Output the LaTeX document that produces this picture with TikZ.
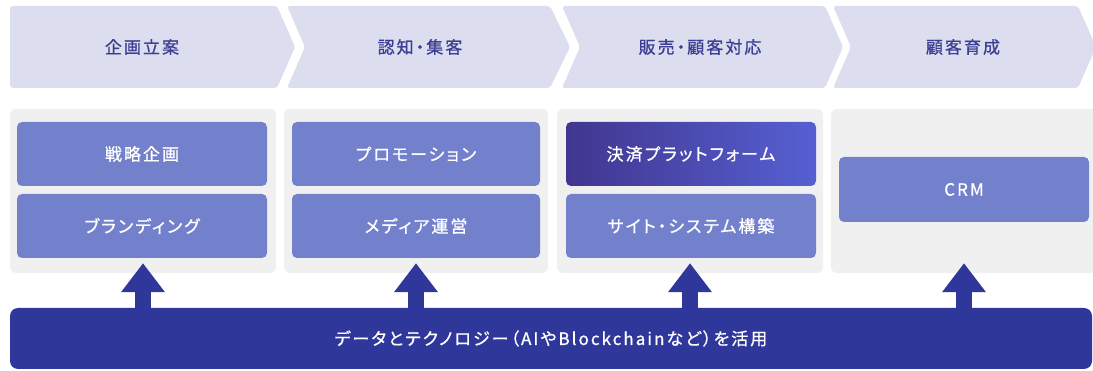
\documentclass[tikz,border=0pt]{standalone}
\usepackage{fontspec}
\setmainfont{Noto Sans CJK JP}[LetterSpace=12, RawFeature=+palt, FakeBold=0.8]
\usetikzlibrary{arrows.meta,calc}
\definecolor{chev}{HTML}{DCDDEE}
\definecolor{headtxt}{HTML}{3B3E93}
\definecolor{panel}{HTML}{F0F0F0}
\definecolor{item}{HTML}{7381CC}
\definecolor{navy}{HTML}{30379A}
\definecolor{gradL}{HTML}{41368F}
\definecolor{gradR}{HTML}{5660D2}
\tikzset{
  chevron/.style={fill=chev, rounded corners=3pt},
  headlabel/.style={text=headtxt, font=\fontsize{17}{20}\selectfont, inner sep=0pt},
  panelbox/.style={fill=panel, rounded corners=6pt, inner sep=0pt, minimum height=164pt},
  itembox/.style={fill=item, rounded corners=5pt, inner sep=0pt, minimum width=250pt, minimum height=64pt, text=white, font=\fontsize{17}{20}\selectfont},
  basebar/.style={fill=navy, rounded corners=8pt, inner sep=0pt, minimum width=1082pt, minimum height=61pt, text=white, font=\fontsize{17}{20}\selectfont},
  uparrow/.style={draw=navy, line width=16pt, -{Triangle[width=42pt,length=29pt]}}
}
\begin{document}
\begin{tikzpicture}[x=1pt,y=-1pt]
\useasboundingbox (0,0) rectangle (1093,371);
% header chevrons
\fill[chevron] (10,6) -- (277,6) -- (295,47) -- (277,88) -- (10,88) -- cycle;
\fill[chevron] (287,6) -- (550,6) -- (570,47) -- (550,88) -- (287,88) -- (305,47) -- cycle;
\fill[chevron] (562,6) -- (825,6) -- (843,47) -- (825,88) -- (562,88) -- (580,47) -- cycle;
\fill[chevron] (833,6) -- (1078,6) -- (1096,47) -- (1078,88) -- (833,88) -- (851,47) -- cycle;
\node[headlabel] (h1) at (142,47) {企画立案};
\node[headlabel] (h2) at (420,47) {認知・集客};
\node[headlabel] (h3) at (700,47) {販売・顧客対応};
\node[headlabel] (h4) at (963,47) {顧客育成};
% panels
\node[panelbox, minimum width=266pt] (p1) at (143,191) {};
\node[panelbox, minimum width=264pt] (p2) at (416,191) {};
\node[panelbox, minimum width=266pt] (p3) at (690,191) {};
\node[panelbox, minimum width=270pt] (p4) at (966,191) {};
% items
\node[itembox] (a1) at (142,154) {戦略企画};
\node[itembox] (a2) at (142,226) {ブランディング};
\node[itembox, minimum width=248pt] (b1) at (416,154) {プロモーション};
\node[itembox, minimum width=248pt] (b2) at (416,226) {メディア運営};
\shade[left color=gradL, right color=gradR, rounded corners=5pt] (566,122) rectangle (816,186);
\node[itembox, fill=none] (c1) at (691,154) {決済プラットフォーム};
\node[itembox] (c2) at (691,226) {サイト・システム構築};
\node[itembox, minimum height=65pt] (d1) at (964,189.5) {CRM};
% base bar
\node[basebar] (bar) at (551,338.5) {データとテクノロジー（AIやBlockchainなど）を活用};
% arrows
\draw[uparrow] ($(bar.north -| p1.south)+(0,2)$) -- ($(p1.south)+(0,-10)$);
\draw[uparrow] ($(bar.north -| p2.south)+(0,2)$) -- ($(p2.south)+(0,-10)$);
\draw[uparrow] ($(bar.north -| p3.south)+(0,2)$) -- ($(p3.south)+(0,-10)$);
\draw[uparrow] ($(bar.north -| d1.south)+(0,2)$) -- ($(p4.south -| d1.south)+(0,-10)$);
\end{tikzpicture}
\end{document}
